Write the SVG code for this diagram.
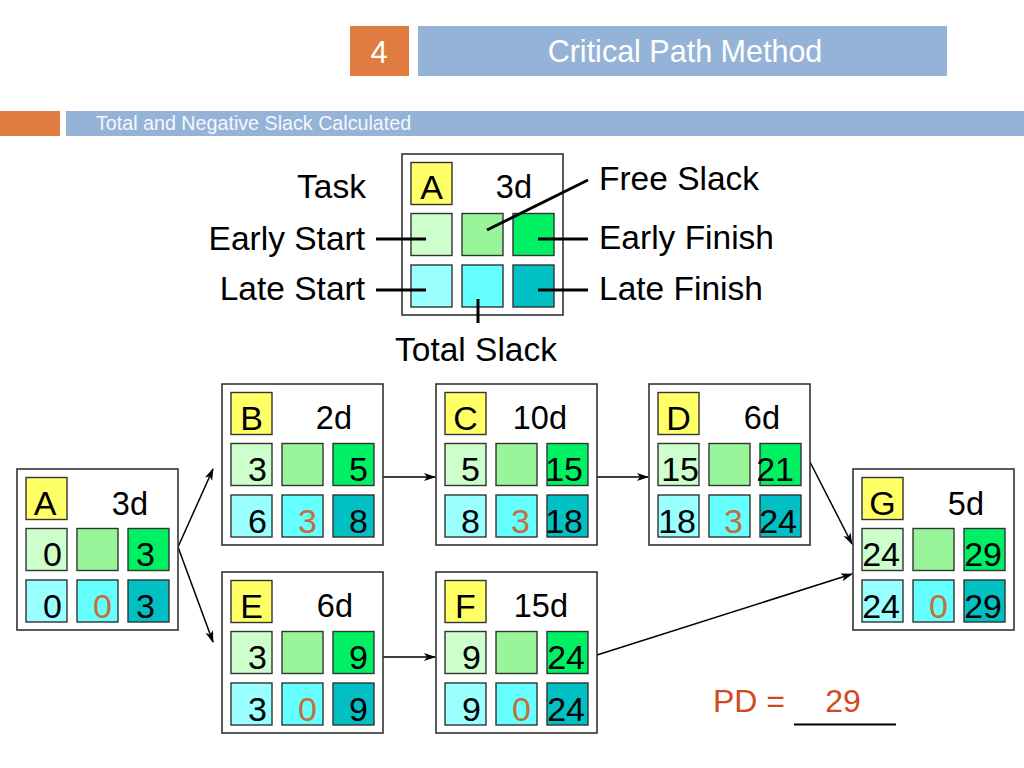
<svg xmlns="http://www.w3.org/2000/svg" width="1024" height="768" viewBox="0 0 1024 768">
<style>
.box{fill:#fff;stroke:#333;stroke-width:1.6}
.c{stroke:#333;stroke-width:1.4}
.y{fill:#FFFF66}
.es{fill:#CCFFCC}
.fs{fill:#99F599}
.ef{fill:#00F064}
.ls{fill:#99FFFF}
.ts{fill:#66FFFF}
.lf{fill:#00C0C4}
text{font-family:"Liberation Sans",Arial,sans-serif}
.lt{font-size:34px;text-anchor:middle}
.du{font-size:32.5px;text-anchor:end}
.n{font-size:34px;text-anchor:end}
.s{font-size:34px;text-anchor:end;fill:#C0703A}
.lab{font-size:33.5px}
.lead{stroke:#000;stroke-width:3;fill:none}
.con{stroke:#000;stroke-width:1.5;fill:none;marker-end:url(#ah)}
</style>
<defs>
<marker id="ah" viewBox="0 0 12 10" refX="11" refY="5" markerWidth="12" markerHeight="10" markerUnits="userSpaceOnUse" orient="auto">
<path d="M0,1 L12,5 L0,9 L3,5 z" fill="#000"/>
</marker>
</defs>
<g id="header">
<rect x="350" y="26" width="59" height="50" fill="#E07C40"/>
<text x="379" y="63" font-family="'Open Sans',sans-serif" font-size="31" fill="#fff" text-anchor="middle">4</text>
<rect x="418" y="26" width="529" height="50" fill="#95B3D7"/>
<text x="685" y="62" font-family="'Open Sans',sans-serif" font-size="30.5" fill="#fff" text-anchor="middle">Critical Path Method</text>
<rect x="0" y="111" width="60" height="25" fill="#E07C40"/>
<rect x="66" y="111" width="958" height="25" fill="#95B3D7"/>
<text x="96" y="129.5" font-size="19.7" fill="#F4F7FB">Total and Negative Slack Calculated</text>
</g>
<g id="legend">
<g transform="translate(402,154)">
<rect class="box" x="0" y="0" width="161" height="161"/>
<rect class="c y" x="9" y="8.5" width="41" height="42"/>
<rect class="c es" x="9" y="59.5" width="41" height="42"/>
<rect class="c fs" x="60" y="59.5" width="41" height="42"/>
<rect class="c ef" x="111" y="59.5" width="41" height="42"/>
<rect class="c ls" x="9" y="111" width="41" height="42"/>
<rect class="c ts" x="60" y="111" width="41" height="42"/>
<rect class="c lf" x="111" y="111" width="41" height="42"/>
<text class="lt" x="29.5" y="45">A</text>
<text class="du" x="130" y="44">3d</text>
</g>
<line class="lead" x1="376" y1="239" x2="426" y2="239"/>
<line class="lead" x1="376" y1="290" x2="426" y2="290"/>
<line class="lead" x1="538" y1="239" x2="588" y2="239"/>
<line class="lead" x1="538" y1="290" x2="588" y2="290"/>
<line class="lead" x1="487" y1="230" x2="588" y2="180"/>
<line class="lead" x1="478" y1="299" x2="478" y2="323"/>
<text class="lab" x="366" y="198" text-anchor="end">Task</text>
<text class="lab" x="365" y="250" text-anchor="end">Early Start</text>
<text class="lab" x="365" y="300" text-anchor="end">Late Start</text>
<text class="lab" x="599" y="190">Free Slack</text>
<text class="lab" x="599" y="249">Early Finish</text>
<text class="lab" x="599" y="300">Late Finish</text>
<text class="lab" x="476" y="361" text-anchor="middle">Total Slack</text>
</g>
<g id="connectors">
<line class="con" x1="178" y1="547" x2="213" y2="469"/>
<line class="con" x1="178" y1="547" x2="213" y2="642"/>
<line class="con" x1="383" y1="477" x2="435" y2="477"/>
<line class="con" x1="597" y1="477" x2="648" y2="477"/>
<line class="con" x1="810" y1="462" x2="852" y2="544"/>
<line class="con" x1="383" y1="657" x2="435" y2="657"/>
<line class="con" x1="597" y1="655" x2="852" y2="574"/>
</g>
<g id="node-A" transform="translate(17,469)">
<rect class="box" x="0" y="0" width="161" height="161"/>
<rect class="c y" x="9" y="8.5" width="41" height="42"/>
<rect class="c es" x="9" y="59.5" width="41" height="42"/>
<rect class="c fs" x="60" y="59.5" width="41" height="42"/>
<rect class="c ef" x="111" y="59.5" width="41" height="42"/>
<rect class="c ls" x="9" y="111" width="41" height="42"/>
<rect class="c ts" x="60" y="111" width="41" height="42"/>
<rect class="c lf" x="111" y="111" width="41" height="42"/>
<text class="lt" x="28" y="46">A</text>
<text class="du" x="131" y="46">3d</text>
<text class="n" x="45" y="97">0</text>
<text class="n" x="138" y="97">3</text>
<text class="n" x="45" y="149">0</text>
<text class="s" x="95" y="149">0</text>
<text class="n" x="138" y="149">3</text>
</g>
<g id="node-B" transform="translate(222,384)">
<rect class="box" x="0" y="0" width="161" height="161"/>
<rect class="c y" x="9" y="8.5" width="41" height="42"/>
<rect class="c es" x="9" y="59.5" width="41" height="42"/>
<rect class="c fs" x="60" y="59.5" width="41" height="42"/>
<rect class="c ef" x="111" y="59.5" width="41" height="42"/>
<rect class="c ls" x="9" y="111" width="41" height="42"/>
<rect class="c ts" x="60" y="111" width="41" height="42"/>
<rect class="c lf" x="111" y="111" width="41" height="42"/>
<text class="lt" x="29.5" y="46">B</text>
<text class="du" x="130" y="45">2d</text>
<text class="n" x="45" y="97">3</text>
<text class="n" x="146" y="97">5</text>
<text class="n" x="45" y="149">6</text>
<text class="s" x="95" y="149">3</text>
<text class="n" x="146" y="149">8</text>
</g>
<g id="node-C" transform="translate(436,384)">
<rect class="box" x="0" y="0" width="161" height="161"/>
<rect class="c y" x="9" y="8.5" width="41" height="42"/>
<rect class="c es" x="9" y="59.5" width="41" height="42"/>
<rect class="c fs" x="60" y="59.5" width="41" height="42"/>
<rect class="c ef" x="111" y="59.5" width="41" height="42"/>
<rect class="c ls" x="9" y="111" width="41" height="42"/>
<rect class="c ts" x="60" y="111" width="41" height="42"/>
<rect class="c lf" x="111" y="111" width="41" height="42"/>
<text class="lt" x="29.5" y="46">C</text>
<text class="du" x="131" y="45">10d</text>
<text class="n" x="44" y="97">5</text>
<text class="n" x="147" y="97">15</text>
<text class="n" x="44" y="149">8</text>
<text class="s" x="94" y="149">3</text>
<text class="n" x="147" y="149">18</text>
</g>
<g id="node-D" transform="translate(649,384)">
<rect class="box" x="0" y="0" width="161" height="161"/>
<rect class="c y" x="9" y="8.5" width="41" height="42"/>
<rect class="c es" x="9" y="59.5" width="41" height="42"/>
<rect class="c fs" x="60" y="59.5" width="41" height="42"/>
<rect class="c ef" x="111" y="59.5" width="41" height="42"/>
<rect class="c ls" x="9" y="111" width="41" height="42"/>
<rect class="c ts" x="60" y="111" width="41" height="42"/>
<rect class="c lf" x="111" y="111" width="41" height="42"/>
<text class="lt" x="29.5" y="46">D</text>
<text class="du" x="131" y="45">6d</text>
<text class="n" x="50" y="97">15</text>
<text class="n" x="145" y="97">21</text>
<text class="n" x="47" y="149">18</text>
<text class="s" x="94" y="149">3</text>
<text class="n" x="148" y="149">24</text>
</g>
<g id="node-E" transform="translate(222,572)">
<rect class="box" x="0" y="0" width="161" height="161"/>
<rect class="c y" x="9" y="8.5" width="41" height="42"/>
<rect class="c es" x="9" y="59.5" width="41" height="42"/>
<rect class="c fs" x="60" y="59.5" width="41" height="42"/>
<rect class="c ef" x="111" y="59.5" width="41" height="42"/>
<rect class="c ls" x="9" y="111" width="41" height="42"/>
<rect class="c ts" x="60" y="111" width="41" height="42"/>
<rect class="c lf" x="111" y="111" width="41" height="42"/>
<text class="lt" x="29.5" y="46">E</text>
<text class="du" x="131" y="45">6d</text>
<text class="n" x="45" y="97">3</text>
<text class="n" x="146" y="97">9</text>
<text class="n" x="45" y="149">3</text>
<text class="s" x="95" y="149">0</text>
<text class="n" x="146" y="149">9</text>
</g>
<g id="node-F" transform="translate(436,572)">
<rect class="box" x="0" y="0" width="161" height="161"/>
<rect class="c y" x="9" y="8.5" width="41" height="42"/>
<rect class="c es" x="9" y="59.5" width="41" height="42"/>
<rect class="c fs" x="60" y="59.5" width="41" height="42"/>
<rect class="c ef" x="111" y="59.5" width="41" height="42"/>
<rect class="c ls" x="9" y="111" width="41" height="42"/>
<rect class="c ts" x="60" y="111" width="41" height="42"/>
<rect class="c lf" x="111" y="111" width="41" height="42"/>
<text class="lt" x="29.5" y="46">F</text>
<text class="du" x="132" y="45">15d</text>
<text class="n" x="45" y="97">9</text>
<text class="n" x="149" y="97">24</text>
<text class="n" x="45" y="149">9</text>
<text class="s" x="95" y="149">0</text>
<text class="n" x="149" y="149">24</text>
</g>
<g id="node-G" transform="translate(853,469)">
<rect class="box" x="0" y="0" width="161" height="161"/>
<rect class="c y" x="9" y="8.5" width="41" height="42"/>
<rect class="c es" x="9" y="59.5" width="41" height="42"/>
<rect class="c fs" x="60" y="59.5" width="41" height="42"/>
<rect class="c ef" x="111" y="59.5" width="41" height="42"/>
<rect class="c ls" x="9" y="111" width="41" height="42"/>
<rect class="c ts" x="60" y="111" width="41" height="42"/>
<rect class="c lf" x="111" y="111" width="41" height="42"/>
<text class="lt" x="29.5" y="46">G</text>
<text class="du" x="131" y="46">5d</text>
<text class="n" x="47" y="97">24</text>
<text class="n" x="149" y="97">29</text>
<text class="n" x="47" y="149">24</text>
<text class="s" x="95" y="149">0</text>
<text class="n" x="149" y="149">29</text>
</g>
<g id="pd">
<text x="713" y="712" font-size="32" fill="#D04A1E">PD =</text>
<text x="843" y="712" font-size="32" fill="#D04A1E" text-anchor="middle">29</text>
<line x1="794" y1="724.5" x2="896" y2="724.5" stroke="#000" stroke-width="2"/>
</g>
</svg>
